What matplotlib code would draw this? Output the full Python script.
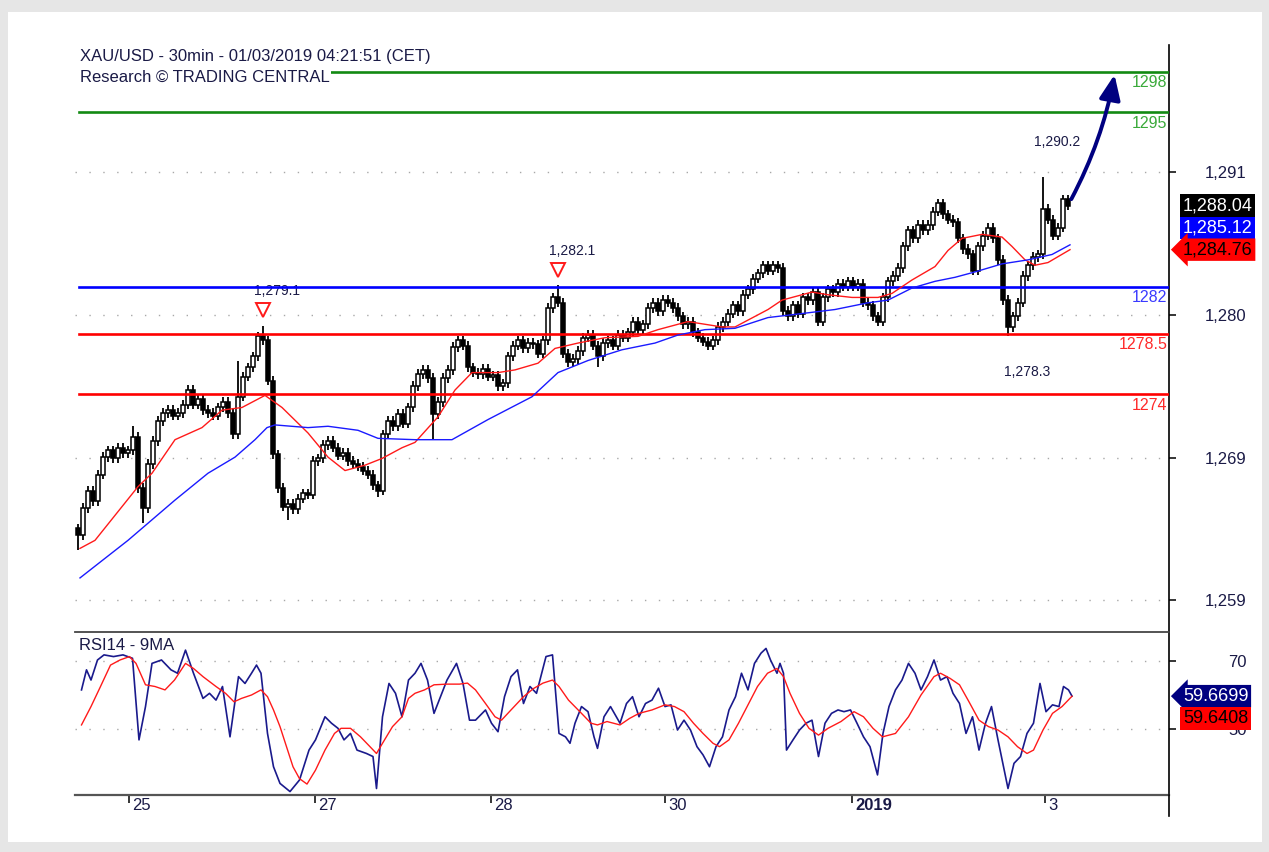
import numpy as np
import matplotlib
matplotlib.use('Agg')
import matplotlib.pyplot as plt
import matplotlib.transforms as mtrans
from matplotlib.patches import Rectangle, FancyArrowPatch
from matplotlib.lines import Line2D

plt.rcParams['font.family'] = ['Liberation Sans', 'DejaVu Sans']

# 30min candles (close prices), open = previous close
first_open = 1264.0
closes = [
    1263.5, 1265.5, 1266.8, 1266.0, 1268.0, 1269.3, 1269.8, 1269.2, 1270.0, 1269.6,
    1269.8, 1270.8, 1267.0, 1265.5, 1268.8, 1270.5, 1272.0, 1272.6, 1272.8, 1272.4,
    1272.6, 1273.2, 1274.3, 1273.2, 1273.6, 1272.8, 1272.6, 1272.4, 1273.0, 1273.4,
    1272.6, 1271.0, 1273.8, 1275.3, 1276.0, 1276.8, 1278.3, 1278.0, 1275.0, 1269.5,
    1267.0, 1265.6, 1265.8, 1265.4, 1266.2, 1266.6, 1266.5, 1269.0, 1269.2, 1270.2,
    1270.5, 1270.0, 1269.4, 1269.6, 1269.0, 1268.8, 1268.6, 1268.3, 1268.0, 1267.2,
    1266.8, 1271.0, 1272.0, 1271.6, 1272.5, 1271.8, 1273.0, 1274.6, 1275.5, 1275.8,
    1275.2, 1272.5, 1273.4, 1275.2, 1275.8, 1277.5, 1278.0, 1277.6, 1276.0, 1275.6,
    1275.5, 1275.9, 1275.3, 1275.4, 1274.6, 1274.8, 1276.8, 1277.6, 1278.0, 1277.4,
    1277.8, 1277.7, 1277.0, 1278.0, 1280.4, 1281.2, 1280.8, 1277.0, 1276.4, 1276.6,
    1277.2, 1278.2, 1278.4, 1277.6, 1276.8, 1277.8, 1278.0, 1277.6, 1278.4, 1278.2,
    1278.6, 1279.4, 1278.8, 1279.2, 1280.4, 1280.8, 1280.2, 1281.0, 1280.8, 1280.4,
    1279.8, 1279.2, 1279.4, 1278.6, 1278.2, 1277.9, 1277.6, 1278.0, 1279.0, 1279.4,
    1280.0, 1280.6, 1280.2, 1281.4, 1281.8, 1282.6, 1283.0, 1283.6, 1283.2, 1283.6,
    1283.4, 1280.2, 1279.8, 1280.6, 1280.0, 1281.2, 1281.0, 1281.6, 1279.4, 1281.2,
    1281.8, 1281.6, 1282.2, 1282.0, 1282.4, 1282.0, 1282.2, 1280.8, 1280.6, 1279.8,
    1279.4, 1281.2, 1282.4, 1282.8, 1283.4, 1285.0, 1286.2, 1285.6, 1286.6, 1286.2,
    1286.6, 1287.6, 1288.2, 1287.4, 1287.0, 1286.8, 1285.6, 1284.8, 1284.4, 1283.2,
    1285.0, 1285.8, 1286.4, 1285.6, 1284.0, 1281.0, 1279.0, 1279.8, 1280.8, 1282.8,
    1283.6, 1284.2, 1284.4, 1287.8, 1287.0, 1285.8, 1286.4, 1288.5, 1288.04,
]
wick = 0.35
spike_hi = {11: 1271.6, 32: 1276.5, 37: 1279.1, 96: 1282.1, 193: 1290.2}
spike_lo = {0: 1262.4, 13: 1264.4, 42: 1264.6, 60: 1266.3, 71: 1270.6, 104: 1276.0, 186: 1278.3}

# moving averages (bar index, price)
red_ma_x = [0.4, 3.4, 12, 14.8, 19.4, 24.8, 28.8, 32.8, 37.4, 40.8, 46, 50, 53.4, 57.4, 60.8,
            64.8, 67.4, 72, 75.4, 78.8, 84, 87.4, 92, 95.4, 100, 105.4, 112, 116, 122, 128.8,
            131.4, 138, 140.8, 146.8, 150, 154.8, 160, 162.8, 166.8, 171.4, 174, 176.8, 180.8,
            184.8, 186.8, 189.4, 191.4, 194, 198.4]
red_ma_y = [1262.5, 1263.1, 1267.1, 1268.1, 1270.6, 1271.5, 1272.8, 1273.0, 1273.9, 1273.0,
            1271.1, 1269.3, 1268.3, 1268.7, 1269.2, 1270.0, 1270.4, 1272.3, 1274.3, 1275.6,
            1275.6, 1275.8, 1276.3, 1277.4, 1277.8, 1278.2, 1278.3, 1278.8, 1279.4, 1279.0,
            1279.0, 1280.3, 1281.0, 1281.6, 1281.4, 1281.2, 1281.2, 1281.5, 1282.5, 1283.5,
            1284.7, 1285.6, 1285.9, 1285.7, 1285.0, 1284.0, 1283.6, 1283.8, 1284.76]
blue_ma_x = [0.4, 10, 19.4, 26, 31.4, 35.4, 37.8, 39.4, 46, 50, 56, 60, 67.4, 74.8, 82, 90.8,
             96, 102, 108.8, 115.4, 120, 125.4, 131.4, 138, 144.8, 151.4, 158, 162, 166.8,
             171.4, 175.4, 179.4, 184.8, 190, 194.8, 198.4]
blue_ma_y = [1260.3, 1263.1, 1266.1, 1268.1, 1269.3, 1270.6, 1271.5, 1271.7, 1271.5, 1271.6,
             1271.3, 1270.7, 1270.6, 1270.6, 1272.1, 1273.8, 1275.6, 1276.5, 1277.3, 1277.8,
             1278.4, 1278.8, 1278.9, 1279.7, 1280.0, 1280.3, 1280.8, 1281.0, 1281.9, 1282.4,
             1282.7, 1283.1, 1283.7, 1284.0, 1284.4, 1285.12]

# RSI14 and its 9MA (bar index, value)
rsi_x = [0.7, 1.7, 2.6, 3.9, 5.2, 7.1, 9.0, 10.9, 12.2, 13.5, 14.8, 16.7, 18.6, 19.9, 21.5,
         23.1, 25.0, 26.3, 27.6, 28.9, 30.4, 32.1, 33.4, 34.7, 35.7, 36.6, 37.9, 39.1, 40.4,
         42.4, 44.3, 46.2, 47.5, 49.4, 50.7, 52.0, 53.2, 54.5, 55.8, 57.7, 59.0, 59.7, 60.9,
         62.2, 63.5, 64.8, 66.1, 67.4, 68.6, 69.9, 71.2, 72.5, 73.8, 75.7, 77.0, 78.3, 79.5,
         81.5, 82.7, 84.0, 85.3, 86.6, 87.9, 89.1, 90.4, 91.7, 93.6, 94.9, 96.2, 97.5, 98.4,
         99.4, 100.7, 102.0, 103.2, 103.9, 105.2, 106.5, 108.4, 109.7, 110.9, 112.2, 113.5,
         114.8, 116.1, 117.4, 118.6, 119.9, 121.2, 122.5, 123.8, 125.0, 126.3, 127.6, 128.9,
         130.2, 131.5, 132.7, 134.0, 135.3, 136.6, 137.6, 138.5, 139.8, 140.4, 141.1, 141.7,
         143.0, 144.3, 145.6, 146.8, 148.1, 149.4, 150.7, 152.0, 153.2, 154.5, 155.8, 157.1,
         158.4, 159.9, 161.0, 162.2, 163.5, 164.8, 166.1, 167.4, 168.6, 169.9, 171.2, 172.5,
         173.8, 175.0, 176.3, 177.6, 178.9, 180.2, 181.5, 182.7, 184.0, 186.0, 187.2, 188.5,
         189.8, 191.1, 192.4, 193.6, 194.9, 196.2, 197.1, 198.1, 198.8]
rsi_y = [61.5, 67.4, 64.4, 70.3, 71.8, 71.3, 71.8, 70.8, 46.8, 56.6, 69.3, 70.3, 67.4, 66.4, 73.2,
         66.4, 59.0, 60.5, 58.5, 62.5, 47.7, 65.4, 63.4, 66.4, 68.8, 66.4, 48.7, 38.9, 34.0,
         31.6, 35.0, 43.8, 46.8, 53.6, 51.7, 50.2, 46.8, 48.7, 43.8, 42.8, 41.9, 32.5, 53.6,
         63.4, 60.5, 53.6, 64.4, 66.4, 69.3, 64.4, 54.6, 59.5, 64.4, 69.3, 63.4, 52.6, 52.6,
         55.6, 51.7, 49.2, 59.5, 65.4, 67.4, 57.5, 62.5, 60.5, 71.3, 71.8, 48.7, 47.7, 45.8,
         51.7, 56.6, 55.1, 47.7, 44.3, 53.6, 56.6, 51.7, 57.5, 59.5, 53.6, 57.5,
         58.5, 62.0, 56.6, 57.1, 49.7, 52.6, 49.7, 44.8, 42.4, 38.9, 44.8, 47.7,
         55.6, 59.5, 66.4, 61.5, 69.3, 72.3, 73.7, 70.3, 66.4, 69.3, 66.4, 43.8,
         46.8, 49.7, 51.7, 52.6, 41.9, 51.7, 54.6, 55.6, 55.1, 55.6, 51.7, 47.7,
         44.8, 36.5, 48.7, 56.6, 61.5, 64.4, 69.3, 66.4, 61.5, 65.4, 70.3, 64.4,
         65.4, 60.5, 57.5, 48.7, 53.6, 43.8, 51.7, 56.6, 46.8, 32.5, 39.9, 41.9,
         48.7, 51.7, 63.4, 55.1, 57.1, 56.6, 62.5, 61.5, 59.67]
rsi_ma_x = [0.7, 2.6, 4.5, 6.5, 8.4, 10.3, 11.6, 13.5, 15.4, 17.4, 19.3, 21.5, 23.1, 25.0, 27.6,
            29.5, 31.2, 32.7, 34.7, 36.6, 37.9, 39.1, 40.4, 41.7, 43.0, 44.3, 45.8, 47.5, 49.4,
            51.3, 52.6, 54.5, 56.5, 58.4, 59.7, 60.9, 62.9, 64.8, 66.1, 67.4, 69.3, 71.2, 73.8,
            76.3, 77.9, 79.5, 81.5, 83.4, 84.7, 86.6, 89.1, 91.1, 93.0, 94.9, 96.2, 98.1, 100.7,
            102.6, 103.9, 105.8, 108.4, 110.3, 112.2, 114.8, 117.4, 119.3, 121.2, 123.1, 125.0,
            127.0, 128.3, 130.2, 132.1, 134.0, 135.9, 137.9, 139.8, 141.1, 142.4, 144.3, 146.2,
            148.1, 150.0, 152.6, 155.2, 157.1, 159.0, 160.9, 163.5, 166.1, 168.6, 171.2, 172.5,
            174.4, 176.3, 178.2, 180.2, 182.1, 184.0, 186.0, 187.9, 189.8, 191.1, 193.0, 194.9,
            196.8, 198.8]
rsi_ma_y = [51.2, 56.6, 62.5, 68.8, 70.3, 71.3, 69.3, 63.0, 62.5, 61.5, 64.4, 69.3, 67.8, 65.4,
            62.5, 60.5, 58.0, 59.0, 60.0, 61.5, 59.5, 55.6, 50.7, 44.8, 38.9, 35.4, 33.8, 37.9,
            43.8, 48.7, 50.2, 50.2, 47.7, 44.8, 42.8, 45.8, 50.7, 53.6, 59.0, 60.5, 61.5, 63.0,
            63.2, 63.2, 63.5, 61.5, 57.5, 53.6, 52.6, 55.6, 59.5, 61.9, 63.5, 64.4, 62.5, 58.5,
            54.6, 51.7, 51.2, 52.2, 51.2, 53.1, 54.6, 55.6, 57.1, 56.6, 55.1, 51.7, 48.7, 45.8,
            44.8, 46.8, 51.7, 57.1, 62.5, 66.4, 67.8, 65.4, 60.5, 54.6, 50.2, 48.2, 50.2, 52.2,
            55.1, 53.6, 50.2, 47.7, 48.7, 53.6, 60.0, 65.4, 66.4, 64.9, 63.0, 58.0, 52.6, 50.7,
            49.7, 47.7, 44.8, 42.8, 43.8, 49.7, 54.6, 56.6, 59.64]

levels = [1298, 1295, 1282, 1278.5, 1274]
level_labels = ['1298', '1295', '1282', '1278.5', '1274']
level_colors = ['#128a12', '#128a12', '#0000ff', '#ff0000', '#ff0000']
level_text_colors = ['#3aaa3a', '#3aaa3a', '#3a3aff', '#ff2a2a', '#ff2a2a']

price_ticks = [1258.66, 1269.24, 1279.89, 1290.55]
price_tick_labels = ['1,259', '1,269', '1,280', '1,291']
date_ticks = [10.2, 47.4, 82.6, 117.4, 154.8, 193.4]
date_labels = ['25', '27', '28', '30', '2019', '3']

W, H = 1269, 852
TXT = '#1a1a46'

fig = plt.figure(figsize=(W / 100, H / 100), dpi=100)
fig.patch.set_facecolor('#e6e6e6')
fig.patches.append(Rectangle((8 / W, 1 - 842 / H), 1254 / W, 830 / H, transform=fig.transFigure,
                             fc='white', ec='none', zorder=-5))

ax = fig.add_axes([75 / W, 1 - 632 / H, 1094 / W, 587 / H])
rx = fig.add_axes([75 / W, 1 - 795 / H, 1094 / W, 163 / H], sharex=ax)

# candles
n = len(closes)
idx = np.arange(n)
c = np.array(closes)
o = np.r_[first_open, c[:-1]]
hi = np.maximum(o, c) + wick
lo = np.minimum(o, c) - wick
for k, v in spike_hi.items():
    hi[k] = v
for k, v in spike_lo.items():
    lo[k] = v
up = c >= o
body = np.maximum(np.abs(c - o), 0.1)
ax.vlines(idx, lo, hi, color='black', lw=1.3, zorder=3)
ax.bar(idx[up], body[up], bottom=o[up], width=0.72, facecolor='white', edgecolor='black', lw=1.1, zorder=4)
ax.bar(idx[~up], body[~up], bottom=c[~up], width=0.72, facecolor='black', edgecolor='black', lw=1.1, zorder=4)

ax.plot(red_ma_x, red_ma_y, color='#ff1a1a', lw=1.0, zorder=6)
ax.plot(blue_ma_x, blue_ma_y, color='#1a1aff', lw=1.0, zorder=6)

for lev, lab, lc, tc in zip(levels, level_labels, level_colors, level_text_colors):
    ax.axhline(lev, xmin=0.004, color=lc, lw=1.9, zorder=5)
    ax.annotate(lab, xy=(1, lev), xycoords=ax.get_yaxis_transform(), xytext=(-1, -2.5),
                textcoords='offset points', ha='right', va='top', fontsize=11.5, color=tc)

# peak / trough labels
def mark_peak(i, val, text):
    tr = mtrans.offset_copy(ax.transData, fig, x=0, y=11, units='points')
    ax.plot(i, val, marker='v', ms=10, mfc='white', mec='#ff1a1a', mew=1.4, transform=tr, zorder=7)
    ax.annotate(text, xy=(i, val), xytext=(10, 25), textcoords='offset points',
                ha='center', va='center', fontsize=10, color=TXT)

mark_peak(37, spike_hi[37], '1,279.1')
mark_peak(96, spike_hi[96], '1,282.1')
ax.annotate('1,290.2', xy=(193, spike_hi[193]), xytext=(10, 25), textcoords='offset points',
            ha='center', va='center', fontsize=10, color=TXT)
ax.annotate('1,278.3', xy=(186, spike_lo[186]), xytext=(14, -26), textcoords='offset points',
            ha='center', va='center', fontsize=10, color=TXT)

arrow = FancyArrowPatch((n - 0.6, c[-1] + 0.3), (207.4, levels[0]), connectionstyle='arc3,rad=0.08',
                        arrowstyle='-|>,head_length=0.75,head_width=0.32', mutation_scale=20,
                        color='#000080', lw=2.8, zorder=8)
ax.add_patch(arrow)

ax.set_xlim(-0.6, 218.2)
ax.set_ylim(1256.27, 1300.01)
ax.set_yticks(price_ticks)
ax.set_yticklabels(price_tick_labels)

rx.plot(rsi_x, rsi_y, color='#1a1a8c', lw=1.2, zorder=4)
rx.plot(rsi_ma_x, rsi_ma_y, color='#ff1a1a', lw=1.0, zorder=5)
rx.set_ylim(30.59, 78.53)
rx.set_yticks([50, 70])
rx.set_yticklabels(['50', '70'])
rx.set_xticks(date_ticks)
rx.set_xticklabels(date_labels)

for a in (ax, rx):
    a.set_facecolor('white')
    a.yaxis.tick_right()
    a.tick_params(axis='y', direction='out', length=5, width=1.1, pad=51, labelsize=12,
                  labelcolor=TXT, color='black')
    for t in a.get_yticklabels():
        t.set_horizontalalignment('right')
    a.grid(axis='y', linestyle=(0, (1, 9)), color='#a8a8a8', lw=1)
    a.spines['left'].set_visible(False)
    a.spines['right'].set_linewidth(1.2)
    a.spines['right'].set_color('black')

ax.spines['top'].set_visible(False)
ax.spines['bottom'].set_visible(False)
ax.tick_params(axis='x', bottom=False, labelbottom=False)
rx.spines['top'].set_color('#454545')
rx.spines['top'].set_linewidth(1.3)
rx.spines['bottom'].set_color('#555555')
rx.spines['bottom'].set_linewidth(1.6)
rx.tick_params(axis='x', direction='out', length=6, width=1.1, pad=-4, labelsize=12,
               labelcolor=TXT, color='black')
shift = mtrans.ScaledTranslation(3 / 100, 0, fig.dpi_scale_trans)
for t in rx.get_xticklabels():
    t.set_horizontalalignment('left')
    t.set_transform(t.get_transform() + shift)
    if t.get_text() == '2019':
        t.set_fontweight('bold')

# right axis extends below the date axis
fig.add_artist(Line2D([1169 / W, 1169 / W], [1 - 795 / H, 1 - 816 / H], transform=fig.transFigure,
                      color='black', lw=1.2))

# last-value boxes
def value_box(axis, val, text, fc, tc, dy=0, style='square,pad=0.15'):
    axis.annotate(text, xy=(1, val), xycoords=axis.get_yaxis_transform(), xytext=(10, dy),
                  textcoords='offset points', ha='left', va='center', fontsize=13, color=tc,
                  bbox=dict(boxstyle=style, fc=fc, ec='none'), annotation_clip=False, zorder=10)

value_box(ax, c[-1], '1,288.04', 'black', 'white')
value_box(ax, c[-1], '1,285.12', '#0000ff', 'white', dy=-16)
value_box(ax, red_ma_y[-1], '1,284.76', '#ff0000', 'black', style='larrow,pad=0.15')
value_box(rx, rsi_y[-1], '59.6699', '#000080', 'white', style='larrow,pad=0.15')
value_box(rx, rsi_y[-1], '59.6408', '#ff0000', 'black', dy=-16)

fig.text(80 / W, 1 - 57 / H, 'XAU/USD - 30min - 01/03/2019 04:21:51 (CET)', fontsize=12,
         color=TXT, va='center', ha='left')
fig.text(80 / W, 1 - 77 / H, 'Research \u00a9 TRADING CENTRAL', fontsize=12, color=TXT,
         va='center', ha='left', zorder=20,
         bbox=dict(boxstyle='square,pad=0.1', fc='white', ec='none'))
rx.text(0.004, 1 - 13 / 163, 'RSI14 - 9MA', transform=rx.transAxes, fontsize=12, color=TXT,
        va='center', ha='left')

fig.savefig('out.png', dpi=100, facecolor=fig.get_facecolor())
